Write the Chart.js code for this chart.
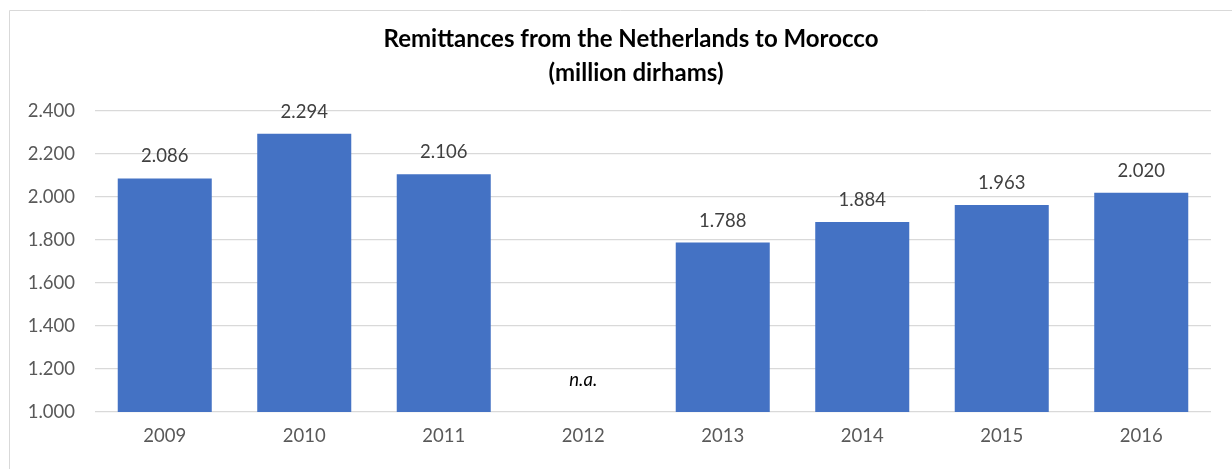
<!DOCTYPE html>
<html>
<head>
<meta charset="utf-8">
<script src="https://cdn.jsdelivr.net/npm/chart.js@4"></script>
<style>
  html, body { margin: 0; padding: 0; background: #fff; overflow: hidden; }
  canvas { display: block; }
</style>
</head>
<body>
<canvas id="remitChart" width="1232" height="469"></canvas>
<script>
const years = ["2009", "2010", "2011", "2012", "2013", "2014", "2015", "2016"];
const remittances = [2086, 2294, 2106, null, 1788, 1884, 1963, 2020];
const missingLabel = "n.a.";
const titleLines = ["Remittances from the Netherlands to Morocco", "(million dirhams)"];

const FONT = "Lato, 'Open Sans', sans-serif";

function fmt(v) {
  return String(v).replace(/\B(?=(\d{3})+(?!\d))/g, ".");
}

// frame, title and bar labels
const decor = {
  id: "decor",
  beforeDraw(chart) {
    const c = chart.ctx;
    c.save();
    c.strokeStyle = "#d9d9d9";
    c.lineWidth = 1;
    c.beginPath();
    c.moveTo(9.5, 469);
    c.lineTo(9.5, 10.5);
    c.lineTo(1232, 10.5);
    c.stroke();
    c.restore();
  },
  afterDatasetsDraw(chart) {
    const c = chart.ctx;
    const meta = chart.getDatasetMeta(0);
    const y = chart.scales.y;
    c.save();
    c.textAlign = "center";
    c.textBaseline = "middle";
    c.fillStyle = "#000";
    c.font = "bold 24px " + FONT;
    c.fillText(titleLines[0], 631, 39);
    c.fillText(titleLines[1], 636, 73);
    meta.data.forEach((bar, i) => {
      const v = remittances[i];
      if (v === null) {
        c.font = "italic 18.5px " + FONT;
        c.fillStyle = "#000";
        c.fillText(missingLabel, bar.x, y.getPixelForValue(1150));
      } else {
        c.font = "18.5px " + FONT;
        c.fillStyle = "#404040";
        c.fillText(fmt(v), bar.x, bar.y - 22);
      }
    });
    c.restore();
  }
};

new Chart(document.getElementById("remitChart").getContext("2d"), {
  type: "bar",
  data: {
    labels: years,
    datasets: [{
      data: remittances,
      backgroundColor: "#4472c4",
      barPercentage: 0.674,
      categoryPercentage: 1
    }]
  },
  options: {
    responsive: false,
    animation: false,
    layout: { padding: { top: 111, right: 21, left: 0, bottom: 0 } },
    plugins: { legend: { display: false }, tooltip: { enabled: false } },
    scales: {
      x: {
        grid: { display: false, drawTicks: false },
        border: { display: false },
        ticks: { color: "#595959", font: { family: FONT, size: 18.5 }, padding: 13 },
        afterFit: (s) => { s.height = 57; }
      },
      y: {
        min: 1000,
        max: 2400,
        grid: { color: "#d9d9d9", lineWidth: 1.3, drawTicks: false },
        border: { display: false },
        ticks: {
          stepSize: 200,
          color: "#595959",
          font: { family: FONT, size: 18.5 },
          padding: 20,
          callback: (v) => fmt(v)
        },
        afterFit: (s) => { s.width = 95; }
      }
    }
  },
  plugins: [decor]
});
</script>
</body>
</html>
